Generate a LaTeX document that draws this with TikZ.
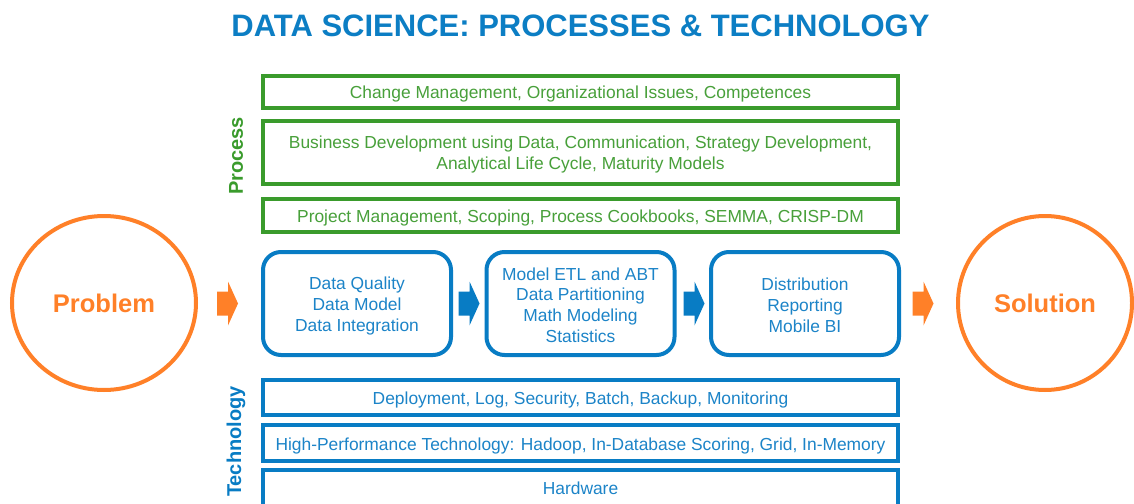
\documentclass[tikz,border=0pt]{standalone}
\usepackage{fontspec}
\setmainfont{Liberation Sans}
\usetikzlibrary{calc,shapes.geometric}
\definecolor{gborder}{RGB}{58,155,44}
\definecolor{gtext}{RGB}{72,160,58}
\definecolor{bborder}{RGB}{8,124,196}
\definecolor{btext}{RGB}{28,132,200}
\definecolor{ttl}{RGB}{12,126,196}
\definecolor{orng}{RGB}{255,128,40}
\tikzset{
  gbox/.style={draw=gborder, line width=4pt, inner sep=0pt, outer sep=0pt, minimum width=635pt},
  tbox/.style={draw=bborder, line width=4pt, inner sep=0pt, outer sep=0pt, minimum width=635pt},
  pbox/.style={draw=bborder, line width=4pt, rounded corners=18pt, inner sep=0pt, outer sep=0pt, minimum width=188pt, minimum height=103pt},
  gtxt/.style={text=gtext, font=\fontsize{17.4}{20.5}\selectfont, align=center, inner sep=0pt},
  btxt/.style={text=btext, font=\fontsize{17.4}{20.5}\selectfont, align=center, inner sep=0pt},
  ptxt/.style={text=btext, font=\fontsize{17.4}{20.8}\selectfont, align=center, inner sep=0pt},
  endshape/.style={ellipse, draw=orng, line width=4pt, inner sep=0pt, text=orng, font=\bfseries\fontsize{25.5}{28}\selectfont},
  sidelabel/.style={rotate=90, font=\bfseries\fontsize{20}{22}\selectfont, inner sep=0pt},
  pics/blockarrow/.style={code={
    \fill[#1] (-10.5,-12) -- (0.5,-12) -- (0.5,-22) -- (10.5,0) -- (0.5,22) -- (0.5,12) -- (-10.5,12) -- cycle;}}
}
\begin{document}
\begin{tikzpicture}[x=1pt,y=-1pt]
\clip (0,0) rectangle (1134,503);
\fill[white] (0,0) rectangle (1134,503);

\node[text=ttl, font=\bfseries\fontsize{31}{34}\selectfont, inner sep=0pt] (title) at (580.5,25.5) {DATA SCIENCE: PROCESSES \& TECHNOLOGY};

% Process layers
\node[gbox, minimum height=32pt] (g1) at (580.5,92) {};
\node[gtxt] (g1t) at ([yshift=-2pt]g1.center) {Change Management, Organizational Issues, Competences};
\node[gbox, minimum height=63pt] (g2) at (580.5,152.5) {};
\node[gtxt] (g2t) at ([yshift=-2pt]g2.center) {Business Development using Data, Communication, Strategy Development,\\Analytical Life Cycle, Maturity Models};
\node[gbox, minimum height=33pt] (g3) at (580.5,215.5) {};
\node[gtxt] (g3t) at ([yshift=-2pt]g3.center) {Project Management, Scoping, Process Cookbooks, SEMMA, CRISP-DM};
\node[sidelabel, text=gborder] (proclabel) at (236,156) {Process};

% Flow boxes
\node[pbox] (pa) at (357,303.5) {};
\node[ptxt] (pat) at ([yshift=-2.5pt]pa.center) {Data Quality\\Data Model\\Data Integration};
\node[pbox] (pb) at (580.5,303.5) {};
\node[ptxt] (pbt) at ([yshift=-1.5pt]pb.center) {Model ETL and ABT\\Data Partitioning\\Math Modeling\\Statistics};
\node[pbox] (pc) at (805,303.5) {};
\node[ptxt] (pct) at ([yshift=-1.5pt]pc.center) {Distribution\\Reporting\\Mobile BI};

% Start and end
\node[endshape, minimum width=184pt, minimum height=174pt] (prob) at (104,303) {Problem};
\node[endshape, minimum width=174pt, minimum height=174pt] (sol) at (1045,303) {Solution};

% Block arrows
\pic at (227.5,303.5) {blockarrow=orng};
\pic at (469,303.5) {blockarrow=bborder};
\pic at (694,303.5) {blockarrow=bborder};
\pic at (923,303.5) {blockarrow=orng};

% Technology layers
\node[tbox, minimum height=35pt] (t1) at (580.5,397.5) {};
\node[btxt] (t1t) at ([yshift=-2pt]t1.center) {Deployment, Log, Security, Batch, Backup, Monitoring};
\node[tbox, minimum height=36pt] (t2) at (580.5,443) {};
\node[btxt] (t2t) at ([yshift=-2.5pt]t2.center) {High-Performance Technology: Hadoop, In-Database Scoring, Grid, In-Memory};
\node[tbox, minimum height=50pt] (t3) at (580.5,495) {};
\node[btxt] (t3t) at (580.5,488) {Hardware};
\node[sidelabel, text=bborder] (techlabel) at (236,441.5) {Technology};
\end{tikzpicture}
\end{document}
